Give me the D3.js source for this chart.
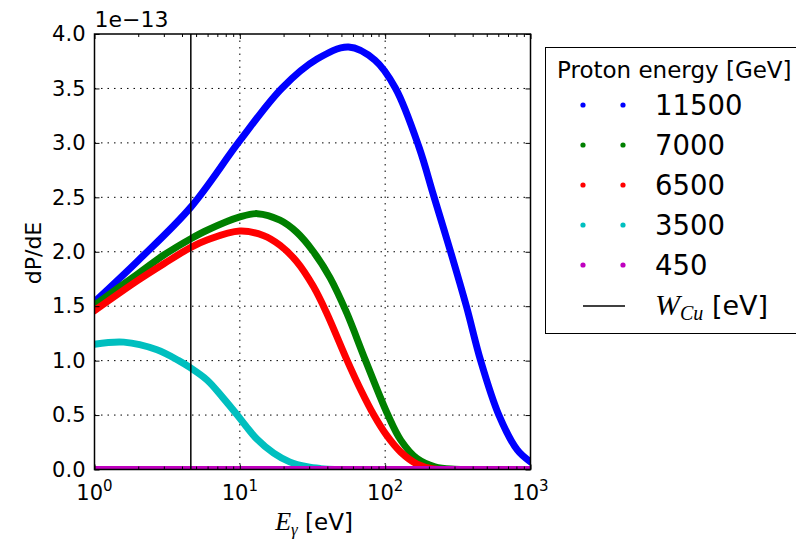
<!DOCTYPE html>
<html><head><meta charset="utf-8">
<script src="https://cdn.jsdelivr.net/npm/d3@7"></script>
<style>body{margin:0;background:#fff}svg{display:block}text{font-family:"DejaVu Sans",sans-serif;fill:#000}</style>
</head><body>
<svg id="c" width="796" height="541"></svg>
<script>
// ---- data (values in units of 1e-13) ----
const seriesLabels = ["11500", "7000", "6500", "3500", "450"];
const seriesColors = ["#0000ff", "#008000", "#ff0000", "#00bfbf", "#bf00bf"];

const energy11500 = [1, 2, 4.6, 10, 19.4, 34, 56, 85, 118, 171, 215, 282, 362, 454, 606, 811, 1000];
const dpde11500   = [1.54, 1.92, 2.41, 3.02, 3.50, 3.77, 3.88, 3.76, 3.50, 2.96, 2.52, 2.00, 1.50, 1.00, 0.50, 0.18, 0.07];

const energy7000 = [1, 2, 3, 4.6, 6, 10, 13.2, 18.9, 24.6, 32.1, 41.8, 54.3, 73.3, 104.5, 128, 166, 220, 300, 1000];
const dpde7000   = [1.51, 1.80, 1.97, 2.12, 2.20, 2.32, 2.35, 2.29, 2.18, 2.00, 1.76, 1.44, 1.00, 0.50, 0.27, 0.10, 0.025, 0.003, 0];

const energy6500 = [1, 2, 3, 4.6, 6, 10, 14.5, 18.9, 24.6, 32.1, 39.5, 54.8, 68, 83.6, 101.6, 128, 166, 215, 1000];
const dpde6500   = [1.46, 1.74, 1.89, 2.04, 2.11, 2.19, 2.15, 2.06, 1.91, 1.68, 1.44, 1.00, 0.73, 0.50, 0.32, 0.16, 0.05, 0.005, 0];

const energy3500 = [1, 1.59, 2.69, 3.8, 4.5, 5.97, 7.64, 9.6, 11, 13.1, 17.1, 22, 29, 36, 45, 1000];
const dpde3500   = [1.15, 1.17, 1.10, 1.00, 0.94, 0.82, 0.66, 0.50, 0.40, 0.28, 0.15, 0.07, 0.025, 0.008, 0, 0];

const energy450 = [1, 10, 100, 1000];
const dpde450   = [0, 0, 0, 0];

const workFunctionCu = 4.6; // eV
const yTicks = [0, 0.5, 1.0, 1.5, 2.0, 2.5, 3.0, 3.5, 4.0];
const xTicks = [1, 10, 100, 1000];
const xTickExps = ["0", "1", "2", "3"];

const allSeries = [
  [energy11500, dpde11500], [energy7000, dpde7000], [energy6500, dpde6500],
  [energy3500, dpde3500], [energy450, dpde450]
];

// ---- layout ----
const L = 94.5, R = 530.5, T = 34, B = 469.5;
const svg = d3.select("#c");
const x = d3.scaleLog().domain([1, 1000]).range([L, R]);
const y = d3.scaleLinear().domain([0, 4]).range([B, T]);

svg.append("defs").append("clipPath").attr("id", "clip")
  .append("rect").attr("x", L).attr("y", T).attr("width", R - L).attr("height", B - T);

// grid
const grid = svg.append("g");
yTicks.slice(1, -1).forEach(v => grid.append("line")
  .attr("x1", L).attr("x2", R).attr("y1", y(v)).attr("y2", y(v))
  .attr("stroke", "#000").attr("stroke-width", 1).attr("stroke-dasharray", "1.5,5"));
[10, 100].forEach(v => grid.append("line")
  .attr("x1", x(v)).attr("x2", x(v)).attr("y1", T).attr("y2", B)
  .attr("stroke", "#000").attr("stroke-width", 1).attr("stroke-dasharray", "1.5,5"));

// curves
const line = d3.line().x(d => x(d[0])).y(d => y(d[1])).curve(d3.curveCatmullRom.alpha(0.5));
const plot = svg.append("g").attr("clip-path", "url(#clip)");
allSeries.forEach((s, i) => {
  const pts = s[0].map((e, k) => [e, s[1][k]]);
  plot.append("path").attr("d", line(pts)).attr("fill", "none")
    .attr("stroke", seriesColors[i]).attr("stroke-width", 7)
    .attr("stroke-linecap", "round").attr("stroke-linejoin", "round");
});

// W_Cu vertical line
svg.append("line").attr("x1", x(workFunctionCu)).attr("x2", x(workFunctionCu))
  .attr("y1", T).attr("y2", B).attr("stroke", "#000").attr("stroke-width", 1.5);

// axes (ticks inside, on all sides)
const yAxL = d3.axisLeft(y).tickValues(yTicks).tickSize(-5).tickPadding(9).tickFormat(d3.format(".1f"));
const yAxR = d3.axisRight(y).tickValues(yTicks).tickSize(-5).tickFormat("");
const minor = [];
[1, 10, 100].forEach(d => { for (let k = 2; k <= 9; k++) minor.push(d * k); });
const xAxB = d3.axisBottom(x).tickValues(xTicks).tickSize(-5).tickFormat("");
const xAxT = d3.axisTop(x).tickValues(xTicks).tickSize(-5).tickFormat("");
const xAxBm = d3.axisBottom(x).tickValues(minor).tickSize(-3).tickFormat("");
const xAxTm = d3.axisTop(x).tickValues(minor).tickSize(-3).tickFormat("");

function style(g) {
  g.select(".domain").remove();
  g.selectAll(".tick line").attr("stroke", "#000").attr("stroke-width", 1);
}
svg.append("g").attr("transform", `translate(${L},0)`).call(yAxL).call(style)
  .selectAll("text").attr("font-size", 21).attr("font-family", "DejaVu Sans").attr("fill", "#000");
svg.append("g").attr("transform", `translate(${R},0)`).call(yAxR).call(style);
svg.append("g").attr("transform", `translate(0,${B})`).call(xAxB).call(style);
svg.append("g").attr("transform", `translate(0,${T})`).call(xAxT).call(style);
svg.append("g").attr("transform", `translate(0,${B})`).call(xAxBm).call(style);
svg.append("g").attr("transform", `translate(0,${T})`).call(xAxTm).call(style);

// x tick labels with superscripts
xTicks.forEach((v, i) => {
  const t = svg.append("text").attr("x", x(v)).attr("y", 500).attr("text-anchor", "middle").attr("font-size", 21);
  t.append("tspan").text("10");
  t.append("tspan").attr("dy", -9).attr("font-size", 15).text(xTickExps[i]);
});

// frame
svg.append("rect").attr("x", L).attr("y", T).attr("width", R - L).attr("height", B - T)
  .attr("fill", "none").attr("stroke", "#000").attr("stroke-width", 1.5);

// offset text
svg.append("text").attr("x", L).attr("y", 27).attr("font-size", 22).text("1e\u221213");

// axis labels
svg.append("text").attr("transform", "translate(41,253) rotate(-90)").attr("text-anchor", "middle")
  .attr("font-size", 22).text("dP/dE");
const xl = svg.append("text").attr("x", 314).attr("y", 530).attr("text-anchor", "middle").attr("font-size", 23);
xl.append("tspan").attr("font-family", "Liberation Serif").attr("font-style", "italic").attr("font-size", 26).text("E");
xl.append("tspan").attr("font-family", "Liberation Serif").attr("font-style", "italic").attr("font-size", 17).attr("dy", 5).text("\u03b3");
xl.append("tspan").attr("dy", -5).text(" [eV]");

// legend
const lg = svg.append("g");
lg.append("rect").attr("x", 545.5).attr("y", 47.5).attr("width", 260).attr("height", 286)
  .attr("fill", "#fff").attr("stroke", "#000").attr("stroke-width", 1);
lg.append("text").attr("x", 557).attr("y", 78).attr("font-size", 23).text("Proton energy [GeV]");
seriesLabels.forEach((lab, i) => {
  const cy = 105 + i * 40;
  [583, 623].forEach(cx => lg.append("circle").attr("cx", cx).attr("cy", cy).attr("r", 2.6).attr("fill", seriesColors[i]));
  lg.append("text").attr("x", 655).attr("y", cy + 10).attr("font-size", 27.5).text(lab);
});
const wy = 306;
lg.append("line").attr("x1", 583).attr("x2", 625).attr("y1", wy).attr("y2", wy).attr("stroke", "#000").attr("stroke-width", 1.5);
const wt = lg.append("text").attr("x", 655).attr("y", wy + 9).attr("font-size", 27);
wt.append("tspan").attr("font-family", "Liberation Serif").attr("font-style", "italic").attr("font-size", 30).text("W");
wt.append("tspan").attr("font-family", "Liberation Serif").attr("font-style", "italic").attr("font-size", 20).attr("dy", 5).text("Cu");
wt.append("tspan").attr("dy", -5).text(" [eV]");
</script>
</body></html>
